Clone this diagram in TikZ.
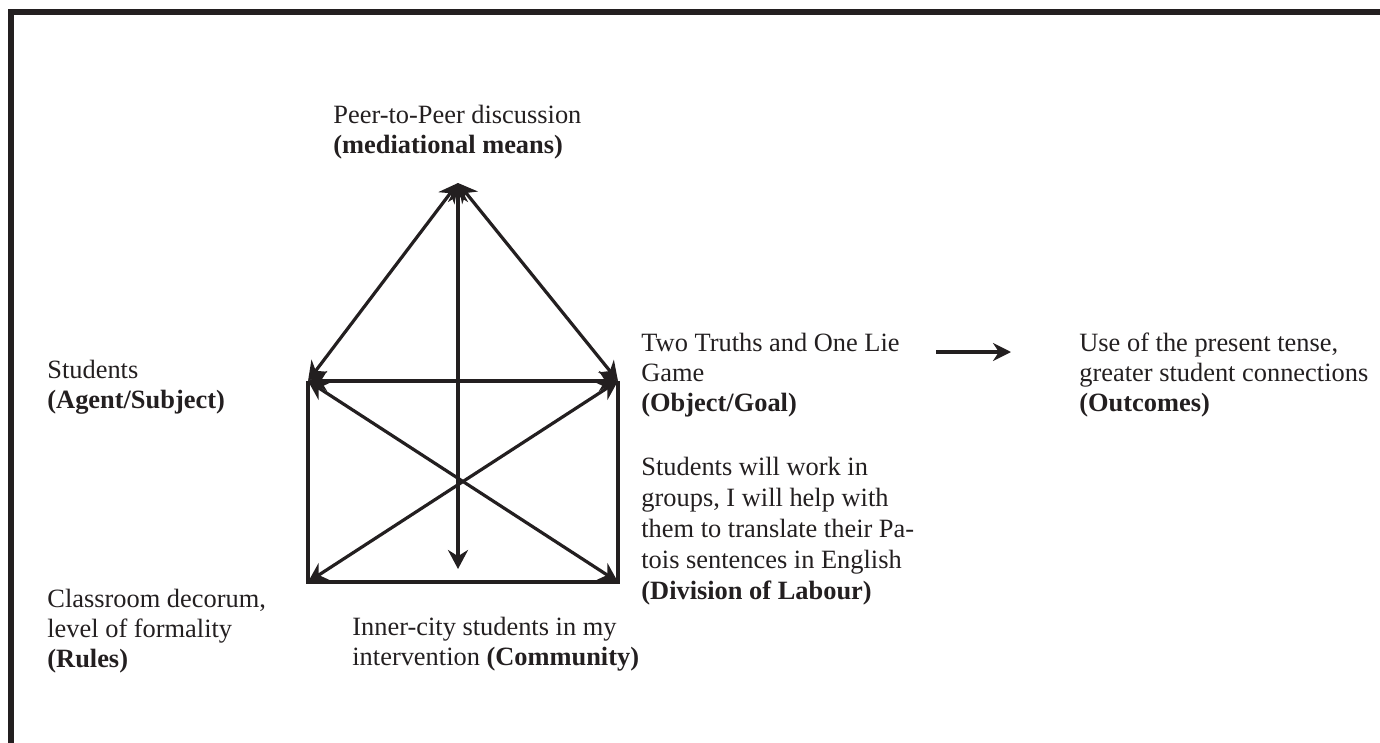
\documentclass[tikz,border=0pt]{standalone}
\usepackage{fontspec}
\setmainfont{Liberation Serif}
\usetikzlibrary{arrows.meta,positioning}
\definecolor{ink}{HTML}{231F20}
\tikzset{
  lbl/.style={anchor=base west, align=left, inner sep=0pt, font=\fontsize{13.2}{15}\selectfont, text=ink},
  link/.style={{Stealth[length=9.5pt,width=10pt]}-{Stealth[length=9.5pt,width=10pt]}, line width=1.6pt, draw=ink},
  side/.style={line width=1.6pt, draw=ink},
  arr/.style={-{Stealth[length=9pt,width=9pt]}, line width=1.6pt, draw=ink},
  frame/.style={line width=2.6pt, draw=ink}
}

\begin{document}
\begin{tikzpicture}[x=0.5pt,y=-0.5pt]
\useasboundingbox (0,0) rectangle (1380,743);
\draw[frame] (11,743) -- (11,12) -- (1380,12);

% corners of the activity system
\coordinate (means) at (458,183);
\coordinate (subject) at (308,381);
\coordinate (object) at (618,381);
\coordinate (rules) at (308,582);
\coordinate (labour) at (618,582);
\coordinate (community) at (458,569);
\coordinate (outfrom) at (936,352);
\coordinate (outto) at (1011,352);

% plain sides
\draw[side] (subject) -- (rules) -- (labour) -- (object);
% double arrows
\draw[link] (means) -- (subject);
\draw[link] (means) -- (object);
\draw[link] (subject) -- (object);
\draw[link] (subject) -- (labour);
\draw[link] (object) -- (rules);
\draw[link] (means) -- (community);
\draw[arr] (outfrom) -- (outto);

% labels (anchored at the baseline of the last line)
\node[lbl] (meanslbl) at (333,154) {Peer-to-Peer discussion\\\textbf{(mediational means)}};
\node[lbl] (subjectlbl) at (47,408) {Students\\\textbf{(Agent/Subject)}};
\node[lbl] (objectlbl) at (641,411) {Two Truths and One Lie\\Game\\\textbf{(Object/Goal)}};
\node[lbl] (outcomelbl) at (1079,411) {Use of the present tense,\\greater student connections\\\textbf{(Outcomes)}};
\node[lbl,font=\fontsize{13.2}{15.5}\selectfont] (labourlbl) at (641,599) {Students will work in\\groups, I will help with\\them to translate their Pa-\\tois sentences in English\\\textbf{(Division of Labour)}};
\node[lbl] (ruleslbl) at (47,667) {Classroom decorum,\\level of formality\\\textbf{(Rules)}};
\node[lbl] (communitylbl) at (352,665) {Inner-city students in my\\intervention \textbf{(Community)}};
\end{tikzpicture}
\end{document}
